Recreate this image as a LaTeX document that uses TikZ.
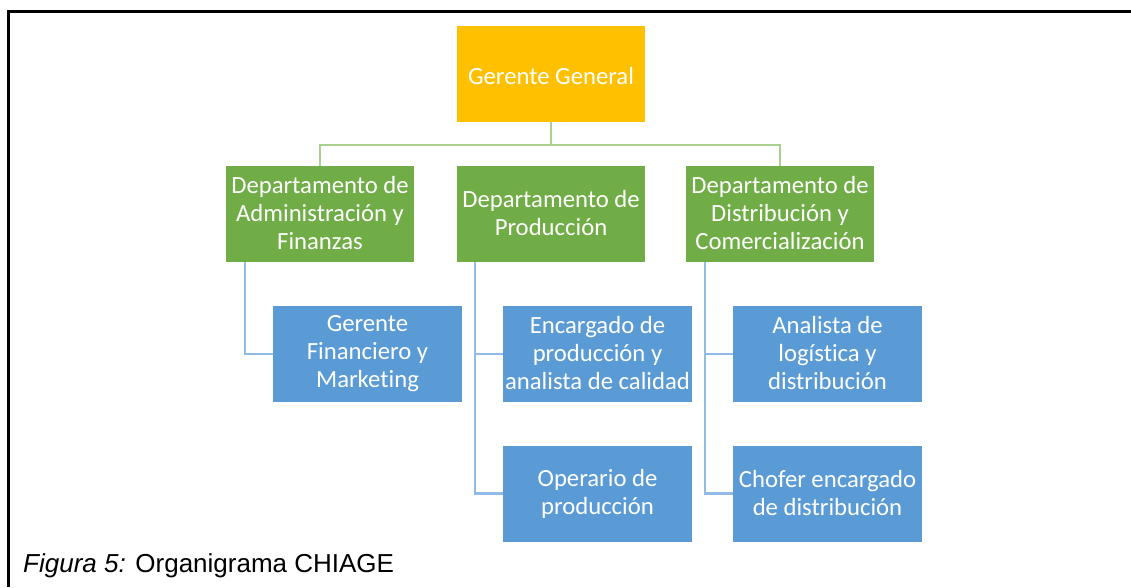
\documentclass[tikz,border=0pt]{standalone}
\usepackage{fontspec}
\setmainfont[Ligatures=NoCommon]{Carlito}
\newfontfamily\capfont{Liberation Sans}
\usetikzlibrary{calc}
\definecolor{gold}{HTML}{FFC000}
\definecolor{dgreen}{HTML}{70AD47}
\definecolor{dblue}{HTML}{5B9BD5}
\definecolor{lgreen}{HTML}{A9D18E}
\definecolor{lblue}{HTML}{8FBBE6}
\newcommand\mytopstrut{\rule{0pt}{22pt}}
\newcommand\mybotstrut{\rule[-1.5pt]{0pt}{1.5pt}}
\begin{document}
\begin{tikzpicture}[x=1pt,y=-1pt,
  box/.style={minimum width=188pt,minimum height=96pt,inner sep=0pt,align=center,text=white,
    font=\fontsize{24.7}{28}\selectfont,
    execute at begin node=\mytopstrut, execute at end node=\mybotstrut},
  topbox/.style={box,fill=gold},
  deptbox/.style={box,fill=dgreen},
  staffbox/.style={box,fill=dblue,minimum width=189pt},
  gline/.style={draw=lgreen,line width=2.2pt},
  bline/.style={draw=lblue,line width=2.2pt}]
\fill[white] (0,0) rectangle (1131,587);
\useasboundingbox (0,0) rectangle (1131,587);
\draw[line width=3pt] (8.5,587) -- (8.5,11) -- (1131,11);
\node[topbox] (gg) at (551,74) {Gerente General};
\node[deptbox] (d1) at (320,214) {Departamento de\\Administración y\\Finanzas};
\node[deptbox] (d2) at (551,214) {Departamento de\\Producción};
\node[deptbox] (d3) at (780,214) {Departamento de\\Distribución y\\Comercialización};
\node[staffbox] (b1) at (367.5,354) {Gerente\\Financiero y\\Marketing};
\node[staffbox] (b2) at (597.5,354) {Encargado de\\producción y\\analista de calidad};
\node[staffbox] (b3) at (597.5,493.5) {Operario de\\producción};
\node[staffbox] (b4) at (827.5,354) {Analista de\\logística y\\distribución};
\node[staffbox] (b5) at (827.5,493.5) {Chofer encargado\\de distribución};
\coordinate (bus) at (551,145);
\draw[gline] (gg.south) -- (bus);
\draw[gline] (d1.north) |- (bus);
\draw[gline] (d3.north) |- (bus);
\coordinate (s1) at ($(d1.south west)+(19,0)$);
\coordinate (s2) at ($(d2.south west)+(18,0)$);
\coordinate (s3) at ($(d3.south west)+(19,0)$);
\draw[bline] (s1) |- (b1.west);
\draw[bline] (s2) |- (b3.west);
\draw[bline] (s2) |- (b2.west);
\draw[bline] (s3) |- (b5.west);
\draw[bline] (s3) |- (b4.west);
\node[anchor=base west,inner sep=0pt,font=\capfont\fontsize{26}{30}\selectfont] (cap) at (23,572) {\textit{Figura 5:} Organigrama CHIAGE};
\end{tikzpicture}
\end{document}
